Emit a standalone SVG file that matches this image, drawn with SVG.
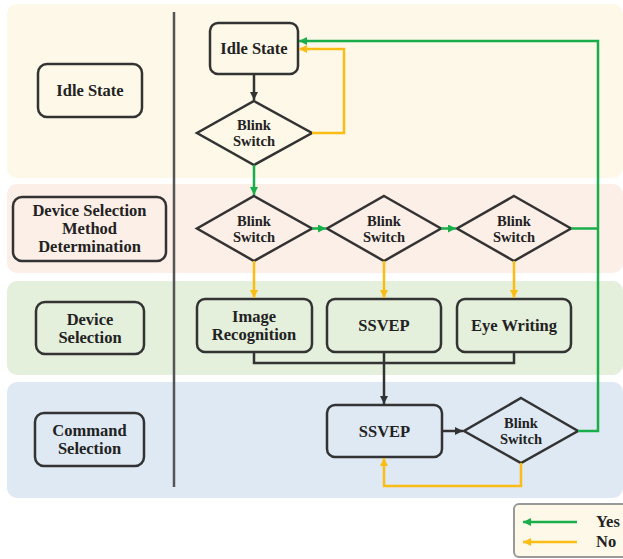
<svg xmlns="http://www.w3.org/2000/svg" width="623" height="559" viewBox="0 0 623 559">
<style>
.band{stroke:none}
.box{fill:none;stroke:#333;stroke-width:2.5}
.t{font-family:"Liberation Serif","Times New Roman",serif;font-weight:bold;font-size:16.5px;fill:#222;text-anchor:middle}
.s{font-size:14.5px}
.g{fill:none;stroke:#1aae4a;stroke-width:2.5}
.y{fill:none;stroke:#fbbd14;stroke-width:2.5}
.k{fill:none;stroke:#333;stroke-width:2.5}
</style>
<defs>
<marker id="ag" markerUnits="userSpaceOnUse" markerWidth="10" markerHeight="10" refX="8" refY="4" orient="auto"><path d="M0,0 L8,4 L0,8 Z" fill="#1aae4a"/></marker>
<marker id="ay" markerUnits="userSpaceOnUse" markerWidth="10" markerHeight="10" refX="8" refY="4" orient="auto"><path d="M0,0 L8,4 L0,8 Z" fill="#fbbd14"/></marker>
<marker id="ak" markerUnits="userSpaceOnUse" markerWidth="10" markerHeight="10" refX="8" refY="4" orient="auto"><path d="M0,0 L8,4 L0,8 Z" fill="#333"/></marker>
</defs>
<rect width="623" height="559" fill="#fff"/>
<g id="bands">
<rect class="band" x="7" y="4" width="616" height="174" rx="10" fill="#fdf8e8"/>
<rect class="band" x="7" y="184" width="616" height="89" rx="10" fill="#fcefe8"/>
<rect class="band" x="7" y="281" width="616" height="94" rx="10" fill="#e4efdc"/>
<rect class="band" x="7" y="382" width="616" height="116" rx="10" fill="#dfe9f4"/>
</g>
<line x1="174" y1="12" x2="174" y2="487" stroke="#555" stroke-width="2.5"/>
<g id="lbl-idle"><rect class="box" x="38" y="64" width="104" height="53" rx="9"/><text class="t" x="90" y="96">Idle State</text></g>
<g id="lbl-dsmd"><rect class="box" x="13" y="197" width="153" height="64" rx="9"/><text class="t" x="89.5" y="216">Device Selection</text><text class="t" x="89.5" y="234">Method</text><text class="t" x="89.5" y="252">Determination</text></g>
<g id="lbl-ds"><rect class="box" x="36" y="302" width="108" height="52" rx="9"/><text class="t" x="90" y="325">Device</text><text class="t" x="90" y="343">Selection</text></g>
<g id="lbl-cs"><rect class="box" x="35" y="413" width="109" height="53" rx="9"/><text class="t" x="89.5" y="436">Command</text><text class="t" x="89.5" y="454">Selection</text></g>

<g id="idle"><rect class="box" x="210" y="23" width="88" height="51" rx="8"/><text class="t" x="254" y="54">Idle State</text></g>
<g id="d1"><polygon class="box" points="254,101 312,133 254,165 197,133"/><text class="t s" x="254" y="130">Blink</text><text class="t s" x="254" y="146">Switch</text></g>
<g id="d2"><polygon class="box" points="254,196 312,228.5 254,261 197,228.5"/><text class="t s" x="254" y="226">Blink</text><text class="t s" x="254" y="242">Switch</text></g>
<g id="d3"><polygon class="box" points="384,196 441,228.5 384,261 327,228.5"/><text class="t s" x="384" y="226">Blink</text><text class="t s" x="384" y="242">Switch</text></g>
<g id="d4"><polygon class="box" points="514,196 571,228.5 514,261 457,228.5"/><text class="t s" x="514" y="226">Blink</text><text class="t s" x="514" y="242">Switch</text></g>
<g id="img"><rect class="box" x="197" y="299" width="115" height="53" rx="8"/><text class="t" x="254" y="322">Image</text><text class="t" x="254" y="340">Recognition</text></g>
<g id="ssvep1"><rect class="box" x="327" y="299" width="114" height="53" rx="8"/><text class="t" x="384" y="331">SSVEP</text></g>
<g id="eye"><rect class="box" x="457" y="299" width="114" height="53" rx="8"/><text class="t" x="514" y="331">Eye Writing</text></g>
<g id="ssvep2"><rect class="box" x="327" y="405" width="115" height="52" rx="8"/><text class="t" x="384.5" y="437">SSVEP</text></g>
<g id="d5"><polygon class="box" points="521,398 578,431 521,463 464,431"/><text class="t s" x="521" y="428">Blink</text><text class="t s" x="521" y="444">Switch</text></g>

<g id="connectors">
<path class="k" d="M254 74 V100" marker-end="url(#ak)"/>
<path class="g" d="M254 165 V195" marker-end="url(#ag)"/>
<path class="g" d="M312 228.5 H326" marker-end="url(#ag)"/>
<path class="g" d="M441 228.5 H456" marker-end="url(#ag)"/>
<path class="y" d="M254 261 V298" marker-end="url(#ay)"/>
<path class="y" d="M384 261 V298" marker-end="url(#ay)"/>
<path class="y" d="M514 261 V298" marker-end="url(#ay)"/>
<path class="y" d="M312 133 H344 V49 H299" marker-end="url(#ay)"/>
<path class="g" d="M578 431 H598 V41 H299" marker-end="url(#ag)"/>
<path class="g" d="M571 228.5 H598"/>
<path class="k" d="M254 352 V363 H514 V352"/>
<path class="k" d="M384 352 V404" marker-end="url(#ak)"/>
<path class="k" d="M442 431 H463" marker-end="url(#ak)"/>
<path class="y" d="M521 463 V486 H384 V458" marker-end="url(#ay)"/>
</g>
<g id="legend">
<rect x="514" y="504" width="120" height="53" rx="5" fill="#fdf8e8" stroke="#999" stroke-width="2"/>
<path class="g" d="M577 522 H523" marker-end="url(#ag)"/>
<path class="y" d="M577 542 H523" marker-end="url(#ay)"/>
<text class="t" x="596" y="527" style="text-anchor:start">Yes</text>
<text class="t" x="596" y="547" style="text-anchor:start">No</text>
</g>
</svg>
